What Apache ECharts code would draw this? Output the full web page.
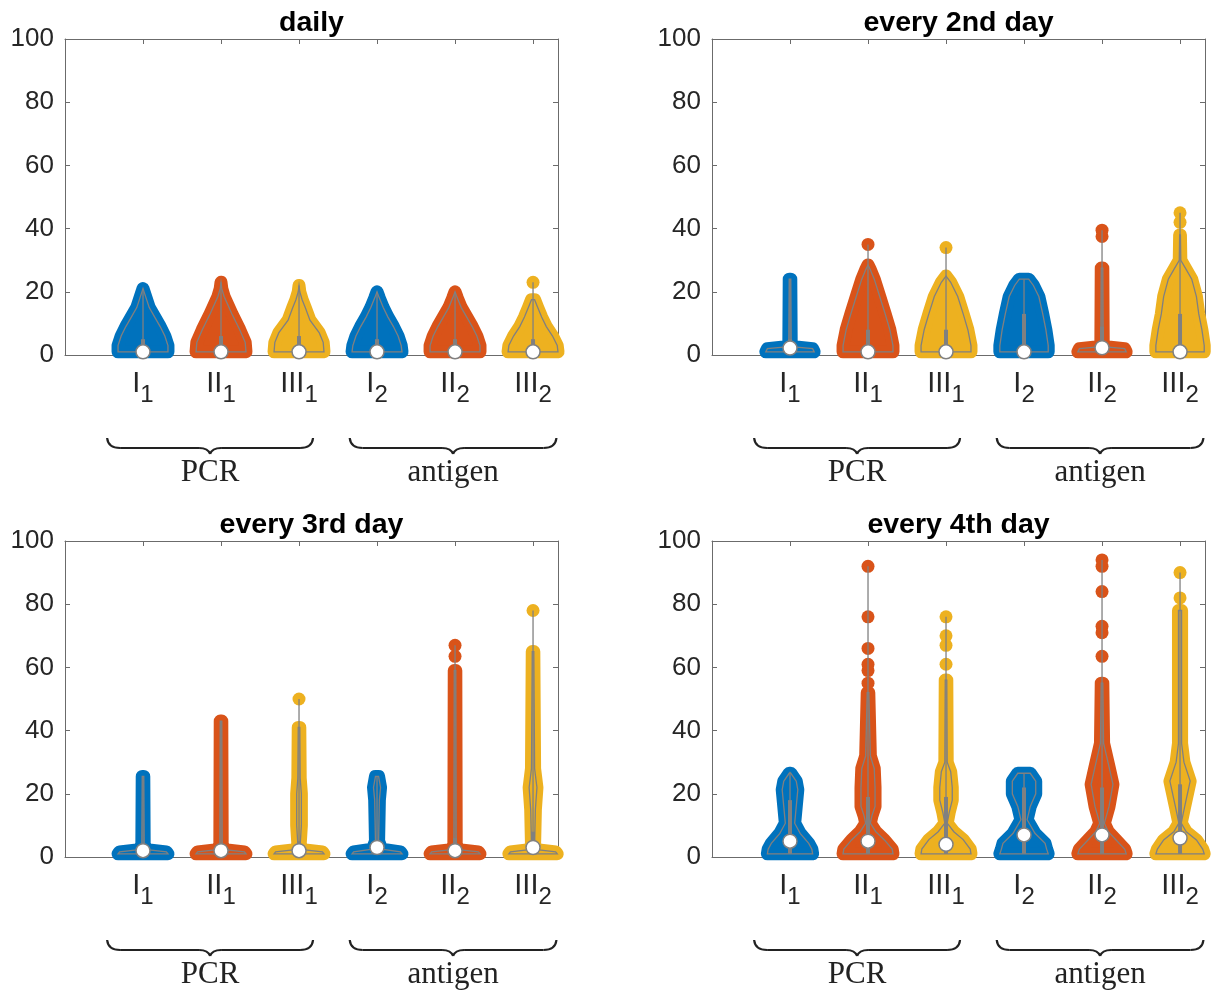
<!DOCTYPE html>
<html><head><meta charset="utf-8">
<script src="https://cdn.jsdelivr.net/npm/echarts@6/dist/echarts.min.js"></script>
<style>html,body{margin:0;padding:0;background:#fff}#c{width:1213px;height:993px}</style>
</head><body><div id="c"></div>
<script>
// ---------------- data ----------------
const categories = ['I', 'II', 'III', 'I', 'II', 'III'];
const subscripts = ['1', '1', '1', '2', '2', '2'];
const groupLabels = ['PCR', 'antigen'];
const titles = ['daily', 'every 2nd day', 'every 3rd day', 'every 4th day'];
const yTicks = [0, 20, 40, 60, 80, 100];

// density profile of each violin: values (y) and half widths (x units)
const dailyY = [
  [1, 3, 6, 9, 12, 15, 18, 21],
  [1, 4, 8, 13, 18.5, 21, 23],
  [1, 4, 7, 11, 15, 17.5, 20, 22],
  [1, 3, 6, 9, 12, 15, 18, 20],
  [1, 3, 6, 9, 12, 15, 18, 20],
  [1, 3, 6, 9, 12, 15, 17.5]
];
const dailyW = [
  [0.32, 0.32, 0.28, 0.22, 0.15, 0.08, 0.04, 0],
  [0.32, 0.31, 0.24, 0.14, 0.04, 0.01, 0],
  [0.32, 0.31, 0.26, 0.14, 0.08, 0.04, 0.01, 0],
  [0.32, 0.31, 0.27, 0.21, 0.14, 0.08, 0.03, 0],
  [0.32, 0.32, 0.28, 0.22, 0.15, 0.08, 0.03, 0],
  [0.32, 0.31, 0.25, 0.17, 0.11, 0.06, 0.02]
];
const dailyDots = [[], [], [], [], [], [23]];
// [min, q1, median, q3, max]
const dailyStats = [[1, 1, 1, 5, 21], [1, 1, 1, 6, 23], [1, 1, 1, 6, 22], [1, 1, 1, 5, 20], [1, 1, 1, 5, 20], [1, 1, 1, 5, 23]];

const every2Y = [
  [1, 2, 2.6, 4, 24],
  [1, 3, 8, 13, 18.5, 24, 27, 28.5],
  [1, 3, 8, 13, 18.5, 23, 25],
  [1, 3, 8, 13, 18.5, 22, 24],
  [1, 2, 2.6, 4, 27.5],
  [1, 3, 8, 13, 18.5, 24, 27, 30, 38]
];
const every2W = [
  [0.31, 0.29, 0.05, 0.015, 0.01],
  [0.32, 0.32, 0.28, 0.22, 0.15, 0.08, 0.03, 0],
  [0.32, 0.32, 0.28, 0.22, 0.15, 0.06, 0],
  [0.31, 0.31, 0.28, 0.24, 0.19, 0.12, 0.06],
  [0.31, 0.29, 0.05, 0.015, 0.01],
  [0.31, 0.31, 0.28, 0.24, 0.21, 0.15, 0.08, 0.01, 0.005]
];
const every2Dots = [[], [35], [34], [], [37.5, 39.5], [42, 45]];
const every2Stats = [[1, 1, 2.2, 5, 24], [1, 1, 1, 8, 35], [1, 1, 1, 8, 34], [1, 1, 1, 13, 24], [1, 1, 2.3, 9, 39.5], [1, 1, 1, 13, 45]];

const every3Y = [
  [1, 1.6, 2.3, 4, 25.5],
  [1, 1.6, 2.3, 4, 43],
  [1, 1.6, 2.3, 4, 10, 20, 25, 41],
  [1, 1.6, 2.5, 5, 18, 22, 25.5],
  [1, 1.6, 2.3, 4, 59],
  [1, 1.6, 2.3, 4, 15, 22, 28, 65]
];
const every3W = [
  [0.32, 0.30, 0.05, 0.015, 0.01],
  [0.32, 0.30, 0.05, 0.015, 0.01],
  [0.32, 0.30, 0.05, 0.015, 0.03, 0.03, 0.015, 0.01],
  [0.32, 0.30, 0.06, 0.02, 0.03, 0.045, 0.02],
  [0.32, 0.30, 0.05, 0.015, 0.01],
  [0.31, 0.29, 0.05, 0.02, 0.03, 0.05, 0.02, 0.01]
];
const every3Dots = [[], [], [50], [], [63.5, 67], [78]];
const every3Stats = [[1, 1, 2, 4, 25.5], [1, 1, 2, 4, 43], [1, 1, 2, 5, 50], [1, 1, 3, 5, 25.5], [1, 1, 2, 6, 67], [1, 1, 3, 8, 78]];

const every4Y = [
  [1, 2.5, 4.3, 7.5, 10.7, 16, 21.3, 24, 26.5],
  [1, 2.5, 5.4, 8, 10.7, 13, 16, 22, 28, 32, 52],
  [1, 2.5, 5.5, 8, 10.7, 14, 18, 22, 27, 30, 56],
  [1, 2.5, 4.3, 7.5, 11.8, 16, 20, 24, 26.5],
  [1, 2.5, 5.4, 8, 10.7, 16, 23, 28.5, 36, 55],
  [1, 2.5, 5.4, 8, 10.7, 16, 24, 30, 36, 78]
];
const every4W = [
  [0.29, 0.28, 0.24, 0.13, 0.06, 0.08, 0.10, 0.08, 0.01],
  [0.32, 0.31, 0.21, 0.10, 0.03, 0.05, 0.09, 0.09, 0.08, 0.03, 0.01],
  [0.32, 0.31, 0.22, 0.10, 0.015, 0.04, 0.08, 0.08, 0.06, 0.015, 0.01],
  [0.31, 0.29, 0.27, 0.14, 0.04, 0.08, 0.15, 0.15, 0.08],
  [0.31, 0.29, 0.18, 0.08, 0.03, 0.09, 0.14, 0.09, 0.02, 0.01],
  [0.31, 0.29, 0.21, 0.08, 0.015, 0.06, 0.13, 0.05, 0.02, 0.02]
];
const every4Dots = [[], [55, 59, 61, 66, 76, 92], [61, 67, 70, 76], [], [63.5, 71, 73, 84, 92, 94], [82, 90]];
const every4Stats = [[1, 1, 5, 18, 27], [1, 1, 5, 19, 92], [1, 1, 4, 19, 76], [1, 1, 7, 22, 26.5], [1, 1, 7, 22, 94], [1, 1, 6, 23, 90]];

// ---------------- styling / layout ----------------
const colors = ['#0072BD', '#D95319', '#EDB120', '#0072BD', '#D95319', '#EDB120'];
const GRAY = '#808080';
const AXIS = '#6b6b6b';
const TXT = '#262626';
const panels = [
  { y: dailyY, w: dailyW, dots: dailyDots, stats: dailyStats },
  { y: every2Y, w: every2W, dots: every2Dots, stats: every2Stats },
  { y: every3Y, w: every3W, dots: every3Dots, stats: every3Stats },
  { y: every4Y, w: every4W, dots: every4Dots, stats: every4Stats }
];
const GRIDS = [{ left: 65, top: 39 }, { left: 712, top: 39 }, { left: 65, top: 541 }, { left: 712, top: 541 }];
const GW = 493, GH = 316, XMAX = 6.32;

const chart = echarts.init(document.getElementById('c'), null, { renderer: 'canvas' });

const grid = [], xAxis = [], yAxis = [], series = [];
GRIDS.forEach((g, i) => {
  grid.push({ left: g.left, top: g.top, width: GW, height: GH });
  const line = { show: true, onZero: false, lineStyle: { color: AXIS, width: 1 } };
  const tick = { show: true, inside: true, length: 5, lineStyle: { color: AXIS, width: 1 } };
  xAxis.push({
    type: 'value', gridIndex: i, min: 0, max: XMAX, interval: 1, position: 'bottom',
    axisLine: line, axisTick: tick, splitLine: { show: false },
    axisLabel: {
      show: true, margin: 14, showMinLabel: false, showMaxLabel: false,
      formatter: function (v) {
        const k = Math.round(v);
        if (Math.abs(v - k) > 1e-6 || k < 1 || k > 6) return '';
        return '{m|' + categories[k - 1] + '}{s|' + subscripts[k - 1] + '}';
      },
      rich: {
        m: { fontSize: 29, fontFamily: 'Liberation Sans', color: TXT, lineHeight: 30, verticalAlign: 'top' },
        s: { fontSize: 24, fontFamily: 'Liberation Sans', color: TXT, lineHeight: 38, verticalAlign: 'bottom' }
      }
    }
  });
  xAxis.push({
    type: 'value', gridIndex: i, min: 0, max: XMAX, interval: 1, position: 'top',
    axisLine: line, axisTick: tick, splitLine: { show: false }, axisLabel: { show: false }
  });
  yAxis.push({
    type: 'value', gridIndex: i, min: yTicks[0], max: yTicks[yTicks.length - 1], interval: 20, position: 'left',
    axisLine: line, axisTick: tick, splitLine: { show: false },
    axisLabel: { show: true, margin: 11, fontSize: 26, fontFamily: 'Liberation Sans', color: TXT }
  });
  yAxis.push({
    type: 'value', gridIndex: i, min: yTicks[0], max: yTicks[yTicks.length - 1], interval: 20, position: 'right',
    axisLine: line, axisTick: tick, splitLine: { show: false }, axisLabel: { show: false }
  });
  const P = panels[i];
  series.push({
    type: 'custom', xAxisIndex: 2 * i, yAxisIndex: 2 * i, clip: false, silent: true,
    data: categories.map((c, k) => [k + 1, P.stats[k][2]]),
    renderItem: function (params, api) {
      const k = params.dataIndex;
      const c = api.value(0);
      const ys = P.y[k], ws = P.w[k], st = P.stats[k];
      const pts = [];
      for (let j = 0; j < ys.length; j++) pts.push(api.coord([c - ws[j], ys[j]]));
      for (let j = ys.length - 1; j >= 0; j--) pts.push(api.coord([c + ws[j], ys[j]]));
      const col = colors[k];
      const ch = [];
      ch.push({ type: 'polygon', shape: { points: pts }, style: { fill: col, stroke: col, lineWidth: 13, lineJoin: 'round' } });
      P.dots[k].forEach(v => {
        const p = api.coord([c, v]);
        ch.push({ type: 'circle', shape: { cx: p[0], cy: p[1], r: 6.5 }, style: { fill: col } });
      });
      ch.push({ type: 'polygon', shape: { points: pts }, style: { fill: 'none', stroke: GRAY, lineWidth: 1.3 } });
      const pMin = api.coord([c, st[0]]), pMax = api.coord([c, st[4]]);
      ch.push({ type: 'line', shape: { x1: pMin[0], y1: pMin[1], x2: pMax[0], y2: pMax[1] }, style: { stroke: GRAY, lineWidth: 1.3 } });
      const q1 = api.coord([c, st[1]]), q3 = api.coord([c, st[3]]);
      ch.push({ type: 'line', shape: { x1: q1[0], y1: q1[1], x2: q3[0], y2: q3[1] }, style: { stroke: GRAY, lineWidth: 4 } });
      const md = api.coord([c, st[2]]);
      ch.push({ type: 'circle', shape: { cx: md[0], cy: md[1], r: 7 }, style: { fill: '#ffffff', stroke: GRAY, lineWidth: 1.5 } });
      return { type: 'group', children: ch };
    }
  });
});

chart.setOption({ animation: false, backgroundColor: '#ffffff', grid, xAxis, yAxis, series });

// titles and brace annotations
const graphic = [];
const braceStyle = { fill: null, stroke: '#222', lineWidth: 2.2 };
GRIDS.forEach((g, i) => {
  const xa = 2 * i, ya = 2 * i;
  const cx = chart.convertToPixel({ xAxisIndex: xa, yAxisIndex: ya }, [XMAX / 2, 100]);
  graphic.push({
    type: 'text', x: cx[0], y: cx[1] - 16,
    style: { text: titles[i], fill: '#000', font: 'bold 28.5px "Liberation Sans"', textAlign: 'center', textVerticalAlign: 'middle' }
  });
  const base = chart.convertToPixel({ xAxisIndex: xa, yAxisIndex: ya }, [0, 0])[1];
  const spans = [[0.54, 3.18], [3.65, 6.30]];
  spans.forEach((s, gi) => {
    const x0 = chart.convertToPixel({ xAxisIndex: xa, yAxisIndex: ya }, [s[0], 0])[0];
    const x1 = chart.convertToPixel({ xAxisIndex: xa, yAxisIndex: ya }, [s[1], 0])[0];
    const xm = (x0 + x1) / 2;
    const y0 = base + 83, yb = base + 93, yc = base + 99;
    graphic.push({ type: 'bezierCurve', shape: { x1: x0, y1: y0, cpx1: x0 + 1, cpy1: yb, x2: x0 + 13, y2: yb }, style: braceStyle });
    graphic.push({ type: 'line', shape: { x1: x0 + 13, y1: yb, x2: xm - 11, y2: yb }, style: braceStyle });
    graphic.push({ type: 'bezierCurve', shape: { x1: xm - 11, y1: yb, cpx1: xm - 2, cpy1: yb, x2: xm, y2: yc }, style: braceStyle });
    graphic.push({ type: 'bezierCurve', shape: { x1: xm, y1: yc, cpx1: xm + 2, cpy1: yb, x2: xm + 11, y2: yb }, style: braceStyle });
    graphic.push({ type: 'line', shape: { x1: xm + 11, y1: yb, x2: x1 - 13, y2: yb }, style: braceStyle });
    graphic.push({ type: 'bezierCurve', shape: { x1: x1 - 13, y1: yb, cpx1: x1 - 1, cpy1: yb, x2: x1, y2: y0 }, style: braceStyle });
    graphic.push({
      type: 'text', x: xm, y: base + 118,
      style: { text: groupLabels[gi], fill: '#222', font: '31px "Liberation Serif"', textAlign: 'center', textVerticalAlign: 'middle' }
    });
  });
});
chart.setOption({ graphic });
</script>
</body></html>
